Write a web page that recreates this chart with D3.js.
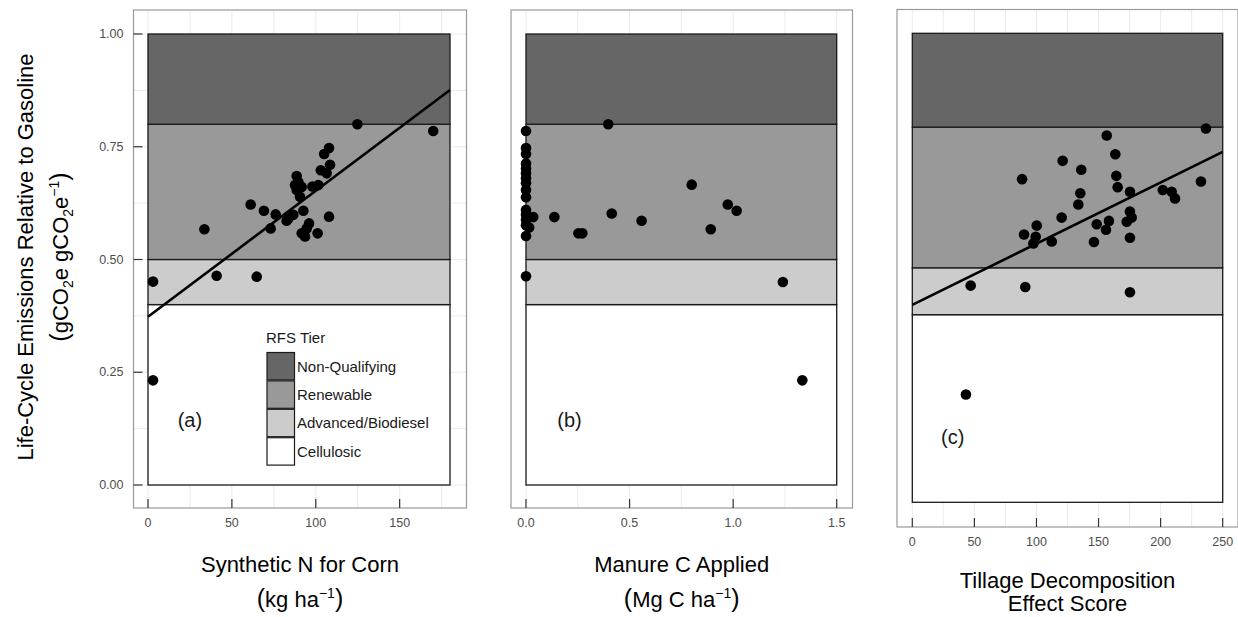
<!DOCTYPE html>
<html>
<meta charset='utf-8'>
<head>
<title>RFS tiers</title>
<script src='https://d3js.org/d3.v7.min.js'></script>
<style>
  body { margin: 0; background: #fff; }
  text { font-family: 'Liberation Sans', Arial, sans-serif; }
</style>
</head>
<body>
<div id='chart'></div>
<script>

// tiers (bottom to top)
var tierBreaks = [0, 0.4, 0.5, 0.8, 1.0]
var tierNames = ['Cellulosic', 'Advanced/Biodiesel', 'Renewable', 'Non-Qualifying']
var yTicks = [0, 0.25, 0.5, 0.75, 1.0]
var yTickLabels = ['0.00', '0.25', '0.50', '0.75', '1.00']

// (a) synthetic N for corn
var nX = [3, 3, 33.6, 40.9, 64.8, 61.2, 69.1, 73.1, 76.1, 82.6, 83.6, 86.6, 88.6, 89.6, 87.6, 91.6, 88.6, 90.6,
          92.6, 94.6, 91.6, 93.6, 96, 101.1, 101.5, 98, 103, 106.5, 108.5, 105, 107.9, 107.9, 124.8, 170]
var nY = [0.232, 0.451, 0.567, 0.464, 0.462, 0.622, 0.608, 0.569, 0.600, 0.586, 0.591, 0.599, 0.685, 0.672, 0.665, 0.661, 0.654, 0.639,
          0.608, 0.569, 0.558, 0.551, 0.580, 0.558, 0.665, 0.662, 0.698, 0.691, 0.710, 0.734, 0.747, 0.595, 0.800, 0.785]
var nTicks = [0, 50, 100, 150]
var nFit = [0.373, 0.002794]   // intercept, slope

// (b) manure C applied
var mX = [0, 0, 0, 0, 0, 0, 0, 0, 0, 0, 0, 0, 0.035, 0, 0, 0.015, 0, 0,
          0.137, 0.253, 0.272, 0.397, 0.414, 0.558, 0.80, 0.892, 0.974, 1.017, 1.24, 1.334]
var mY = [0.785, 0.747, 0.734, 0.713, 0.702, 0.691, 0.680, 0.669, 0.654, 0.638, 0.610, 0.599, 0.594, 0.588, 0.576, 0.571, 0.552, 0.463,
          0.594, 0.558, 0.558, 0.800, 0.602, 0.586, 0.666, 0.567, 0.622, 0.608, 0.450, 0.232]
var mTicks = [0, 0.5, 1.0, 1.5]

// (c) tillage decomposition effect score
var tX = [43.2, 47, 91, 175.3, 88.4, 90, 97.5, 99.4, 100.2, 112.3, 120.3, 121.1, 133.7, 135.3, 136.1, 146.3, 148.5,
          156, 158.4, 156.6, 163.5, 164.3, 165.4, 172.7, 175.3, 175.3, 176.7, 175.3, 201.7, 208.9, 211.6, 232.5, 236.5]
var tY = [0.230, 0.462, 0.459, 0.448, 0.689, 0.571, 0.552, 0.566, 0.590, 0.556, 0.607, 0.728, 0.635, 0.659, 0.709, 0.555, 0.593,
          0.581, 0.600, 0.782, 0.742, 0.696, 0.672, 0.598, 0.662, 0.620, 0.607, 0.564, 0.666, 0.662, 0.648, 0.684, 0.797]
var tTicks = [0, 50, 100, 150, 200, 250]
var tFit = [0.421, 0.001304]

var tierFill = ['#ffffff', '#cccccc', '#999999', '#666666']

var W = 1238, H = 617
var svg = d3.select('#chart').append('svg')
    .attr('width', W)
    .attr('height', H)

var panels = [
    {xs: nX, ys: nY, ticks: nTicks, fmt: d3.format('d'), dom: [0, 180], fit: nFit, label: '(a)', lab: [25, 0.144],
     box: [133.5, 10, 466.5, 508], xr: [148, 450], yr: [485, 34], yAxis: true, minor: 25},
    {xs: mX, ys: mY, ticks: mTicks, fmt: d3.format('.1f'), dom: [0, 1.5], fit: null, label: '(b)', lab: [0.21, 0.144],
     box: [511, 10, 852.5, 508], xr: [526, 836.7], yr: [485, 34], yAxis: false, minor: 0.25},
    {xs: tX, ys: tY, ticks: tTicks, fmt: d3.format('d'), dom: [0, 250], fit: tFit, label: '(c)', lab: [32.5, 0.14],
     box: [897, 9.5, 1238, 527], xr: [912.3, 1222.7], yr: [502.3, 33.3], yAxis: false, minor: 25}
]

panels.forEach(function(p) {
    var x = d3.scaleLinear().domain(p.dom).range(p.xr)
    var y = d3.scaleLinear().domain([0, 1]).range(p.yr)
    var g = svg.append('g')
    var b = p.box

    // grid (major + minor)
    var gridX = d3.range(p.dom[0], p.dom[1] + p.minor / 2, p.minor)
    g.selectAll('.gx').data(gridX).enter().append('line')
        .attr('x1', function(d) { return x(d) }).attr('x2', function(d) { return x(d) })
        .attr('y1', b[1]).attr('y2', b[3])
        .attr('stroke', '#ebebeb').attr('stroke-width', 1)
    if (p.yAxis) {
        g.selectAll('.gy').data(d3.range(0, 1.0001, 0.125)).enter().append('line')
            .attr('x1', b[0]).attr('x2', b[2])
            .attr('y1', function(d) { return y(d) }).attr('y2', function(d) { return y(d) })
            .attr('stroke', '#ebebeb').attr('stroke-width', 1)
    }

    // tier bands
    g.selectAll('.tier').data(tierNames).enter().append('rect')
        .attr('x', x(p.dom[0]))
        .attr('width', x(p.dom[1]) - x(p.dom[0]))
        .attr('y', function(d, i) { return y(tierBreaks[i + 1]) })
        .attr('height', function(d, i) { return y(tierBreaks[i]) - y(tierBreaks[i + 1]) })
        .attr('fill', function(d, i) { return tierFill[i] })
        .attr('stroke', '#1a1a1a')
        .attr('stroke-width', 1.3)

    // panel frame
    g.append('rect')
        .attr('x', b[0]).attr('y', b[1])
        .attr('width', b[2] - b[0]).attr('height', b[3] - b[1])
        .attr('fill', 'none').attr('stroke', '#9a9a9a').attr('stroke-width', 1.2)

    // x ticks
    g.selectAll('.xt').data(p.ticks).enter().append('line')
        .attr('x1', function(d) { return x(d) }).attr('x2', function(d) { return x(d) })
        .attr('y1', b[3] - 9).attr('y2', b[3])
        .attr('stroke', '#333').attr('stroke-width', 1.2)
    g.selectAll('.xl').data(p.ticks).enter().append('text')
        .attr('x', function(d) { return x(d) })
        .attr('y', b[3] + 19)
        .attr('text-anchor', 'middle')
        .attr('font-size', 12.5)
        .attr('fill', '#4d4d4d')
        .text(function(d) { return p.fmt(d) })

    if (p.yAxis) {
        g.selectAll('.yt').data(yTicks).enter().append('line')
            .attr('x1', b[0]).attr('x2', b[0] + 9)
            .attr('y1', function(d) { return y(d) }).attr('y2', function(d) { return y(d) })
            .attr('stroke', '#333').attr('stroke-width', 1.2)
        g.selectAll('.yl').data(yTicks).enter().append('text')
            .attr('x', b[0] - 10)
            .attr('y', function(d) { return y(d) + 4 })
            .attr('text-anchor', 'end')
            .attr('font-size', 12.5)
            .attr('fill', '#4d4d4d')
            .text(function(d, i) { return yTickLabels[i] })
    }

    // fitted line
    if (p.fit) {
        var f = p.fit
        g.append('path')
            .datum(p.dom)
            .attr('fill', 'none')
            .attr('stroke', '#000')
            .attr('stroke-width', 2.6)
            .attr('d', d3.line()
                .x(function(d) { return x(d) })
                .y(function(d) { return y(f[0] + f[1] * d) }))
    }

    // points
    g.selectAll('.pt').data(p.xs).enter().append('circle')
        .attr('cx', function(d) { return x(d) })
        .attr('cy', function(d, i) { return y(p.ys[i]) })
        .attr('r', 5.3)
        .attr('fill', '#000')

    g.append('text')
        .attr('x', x(p.lab[0]))
        .attr('y', y(p.lab[1]) + 7)
        .attr('text-anchor', 'middle')
        .attr('font-size', 20)
        .attr('fill', '#1a1a1a')
        .text(p.label)
    p.cx = (b[0] + b[2]) / 2
})

// axis titles
function sup(t, base, s) {
    t.append('tspan').text(base)
    t.append('tspan').attr('font-size', 14).attr('dy', -9).text(s)
    t.append('tspan').attr('font-size', 25).attr('dy', 9).text(')')
}

svg.append('text').attr('x', panels[0].cx).attr('y', 572).attr('text-anchor', 'middle').attr('font-size', 22).text('Synthetic N for Corn')
var t1b = svg.append('text').attr('x', panels[0].cx).attr('y', 607).attr('text-anchor', 'middle').attr('font-size', 22)
t1b.append('tspan').attr('font-size', 25).text('(')
sup(t1b, 'kg ha', '\u22121')

svg.append('text').attr('x', panels[1].cx).attr('y', 572).attr('text-anchor', 'middle').attr('font-size', 22).text('Manure C Applied')
var t2b = svg.append('text').attr('x', panels[1].cx).attr('y', 607).attr('text-anchor', 'middle').attr('font-size', 22)
t2b.append('tspan').attr('font-size', 25).text('(')
sup(t2b, 'Mg C ha', '\u22121')

svg.append('text').attr('x', panels[2].cx).attr('y', 588).attr('text-anchor', 'middle').attr('font-size', 22).text('Tillage Decomposition')
svg.append('text').attr('x', panels[2].cx).attr('y', 611).attr('text-anchor', 'middle').attr('font-size', 22).text('Effect Score')

// y title
var yt = svg.append('g').attr('transform', 'translate(33,257) rotate(-90)')
yt.append('text').attr('text-anchor', 'middle').attr('font-size', 22).text('Life-Cycle Emissions Relative to Gasoline')
var yt2 = yt.append('text').attr('y', 35).attr('text-anchor', 'middle').attr('font-size', 22)
yt2.append('tspan').attr('font-size', 25).text('(')
yt2.append('tspan').text('gCO')
yt2.append('tspan').attr('font-size', 14).attr('dy', 5).text('2')
yt2.append('tspan').attr('dy', -5).text('e gCO')
yt2.append('tspan').attr('font-size', 14).attr('dy', 5).text('2')
yt2.append('tspan').attr('dy', -5).text('e')
yt2.append('tspan').attr('font-size', 14).attr('dy', -9).text('\u22121')
yt2.append('tspan').attr('font-size', 25).attr('dy', 9).text(')')

// legend inside panel (a)
var leg = svg.append('g').attr('transform', 'translate(266,343)')
leg.append('text').attr('font-size', 15).attr('fill', '#1a1a1a').text('RFS Tier')
var legOrder = tierNames.slice().reverse()
var legFill = tierFill.slice().reverse()
leg.selectAll('.lk').data(legOrder).enter().append('rect')
    .attr('x', 1)
    .attr('y', function(d, i) { return 9.5 + i * 28.4 })
    .attr('width', 27.5).attr('height', 27.4)
    .attr('fill', function(d, i) { return legFill[i] })
    .attr('stroke', '#1a1a1a').attr('stroke-width', 1.2)
leg.selectAll('.ll').data(legOrder).enter().append('text')
    .attr('x', 31)
    .attr('y', function(d, i) { return 9.5 + i * 28.4 + 19 })
    .attr('font-size', 15)
    .attr('fill', '#1a1a1a')
    .text(function(d) { return d })

</script>
</body>
</html>
